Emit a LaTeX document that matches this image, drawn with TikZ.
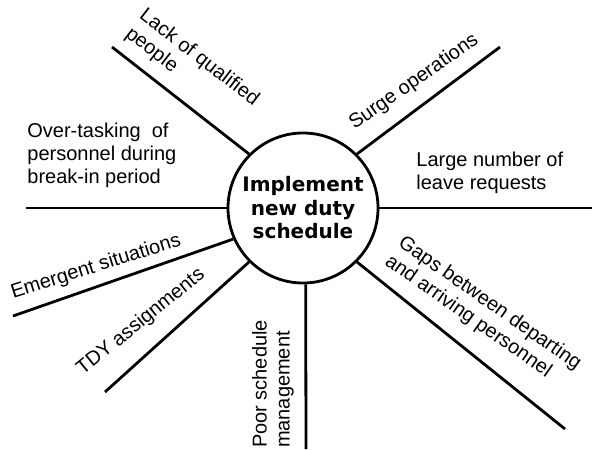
\documentclass[tikz,border=0pt]{standalone}
\usepackage{fontspec}
\setmainfont{Liberation Sans}
\newfontfamily\hubfont{DejaVu Sans}
\usepackage{tikz}
\usetikzlibrary{
  calc
}
\tikzset{
  spoke/.style={
    line width=1.4pt},
  cause/.style={
    inner sep=0pt,
    align=left,
    font=\fontsize{10}{11.5}\selectfont}
  }

\begin{document}
\begin{tikzpicture}[x=0.5pt, y=-0.5pt]
    \useasboundingbox (0,0) rectangle (592,449);
    \node[draw, circle, line width=1.4pt, minimum size=75pt, inner sep=0pt, align=center,
      font=\hubfont\bfseries\fontsize{10}{11.75}\selectfont] (hub) at (303,208)
      {Implement\\new duty\\schedule};
    \coordinate (lackEnd) at (112,47);
    \coordinate (overEnd) at (26,208);
    \coordinate (emerEnd) at (13,316);
    \coordinate (tdyEnd) at (105,392);
    \coordinate (poorEnd) at (306,449);
    \coordinate (gapsEnd) at (565,429);
    \coordinate (leaveEnd) at (592,208);
    \coordinate (surgeEnd) at (500,47);
    \draw [spoke]
      (hub.135) edge[] (lackEnd)
      (hub.180) edge[] (overEnd)
      (hub.204) edge[] (emerEnd)
      (hub.225) edge[] (tdyEnd)
      (hub.272) edge[] (poorEnd)
      (hub.315) edge[] (gapsEnd)
      (hub.0) edge[] (leaveEnd)
      (hub.45) edge[] (surgeEnd);
    \node[cause, rotate=-37.5] (lack) at (192,67) {Lack of qualified\\people};
    \node[cause, rotate=35] (surge) at (414,82) {Surge operations};
    \node[cause, anchor=west] (over) at (27,155) {Over-tasking\ \ of\\personnel during\\break-in period};
    \node[cause, anchor=west] (leave) at (416,173) {Large number of\\leave requests};
    \node[cause, rotate=17.5] (emer) at (96,267) {Emergent situations};
    \node[cause, rotate=39] (tdy) at (141,322) {TDY assignments};
    \node[cause, rotate=90] (poor) at (273,384) {Poor schedule\\management};
    \node[cause, rotate=-35] (gaps) at (483,313) {Gaps between departing\\and arriving personnel};
  \end{tikzpicture}
\end{document}
